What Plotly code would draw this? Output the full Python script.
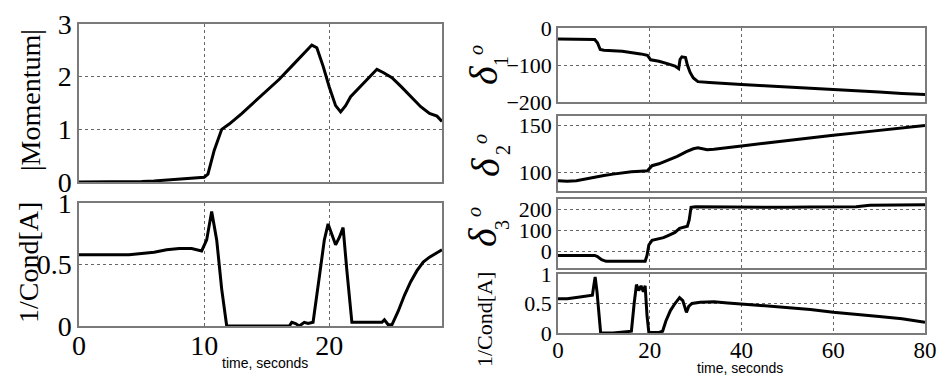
import plotly.graph_objects as go

# ---- data ----
mom_t = [0, 2, 4, 5, 6, 7, 8, 9, 10, 10.3, 10.8, 11.4, 12, 13, 14, 15, 16, 17, 18, 18.6, 19, 19.5, 20,
         20.5, 20.9, 21.3, 21.7, 22.5, 23.3, 23.8, 24.3, 25, 25.7, 26.5, 27.3, 28, 28.6, 29]
mom_v = [0, 0, 0, 0.01, 0.02, 0.04, 0.06, 0.08, 0.09, 0.15, 0.6, 1.0, 1.1, 1.3, 1.52, 1.73, 1.95, 2.2,
         2.45, 2.6, 2.55, 2.2, 1.8, 1.45, 1.33, 1.45, 1.62, 1.82, 2.0, 2.14, 2.08, 1.98, 1.82, 1.62,
         1.43, 1.3, 1.25, 1.15]

condL_t = [0, 2, 4, 5, 6, 7, 8, 9, 9.8, 10.2, 10.6, 11.0, 11.4, 11.8, 13, 15, 16.8, 17.0, 17.3, 17.6,
           18, 18.3, 18.7, 19.2, 19.6, 19.9, 20.2, 20.5, 20.8, 21.1, 21.4, 21.8, 22.5, 23.5, 24.2,
           24.4, 24.7, 25.0, 25.5, 26.0, 26.5, 27, 27.5, 28, 28.5, 29]
condL_v = [0.58, 0.58, 0.58, 0.59, 0.6, 0.62, 0.63, 0.63, 0.61, 0.7, 0.93, 0.7, 0.3, 0, 0, 0, 0, 0.03,
           0.02, 0, 0.03, 0.02, 0.03, 0.4, 0.7, 0.83, 0.75, 0.66, 0.72, 0.8, 0.45, 0.03, 0.03, 0.03,
           0.03, 0.05, 0.01, 0.01, 0.12, 0.25, 0.36, 0.45, 0.52, 0.56, 0.59, 0.62]

d1_t = [0, 4, 8, 8.6, 9.2, 10, 14, 18, 19.5, 20.2, 22, 24, 25.5, 26.3, 26.6, 27, 27.8, 28.2, 28.8,
        29.5, 30.5, 33, 36, 40, 45, 50, 55, 60, 65, 70, 75, 80]
d1_v = [-30, -30, -31, -40, -58, -60, -63, -70, -74, -86, -90, -97, -103, -110, -85, -78, -80, -100,
        -120, -135, -145, -147, -150, -153, -156, -159, -162, -165, -169, -173, -177, -180]

d2_t = [0, 2, 4, 6, 8, 10, 12, 14, 16, 18, 19.5, 20.5, 22, 24, 26, 28, 29.5, 30.5, 31.5, 32.5, 34,
        37, 40, 45, 50, 55, 60, 65, 70, 75, 80]
d2_v = [91, 90.5, 91, 93, 95, 96.5, 98, 99.5, 100.5, 101, 101.5, 107, 109, 113, 117, 122, 125, 126,
        125, 124, 124.5, 126, 128, 131, 134, 137, 139.5, 142, 144.5, 147, 150]

d3_t = [0, 4, 8, 8.6, 9.5, 10.5, 14, 18, 19, 19.4, 19.8, 20.5, 22, 23, 24, 25.5, 26.5, 27.5, 28.2,
        28.6, 29, 30, 34, 40, 50, 55, 60, 65, 68, 70, 75, 80]
d3_v = [-20, -20, -20, -25, -40, -48, -48, -48, -48, -20, 30, 52, 60, 65, 75, 90, 110, 118, 120, 150,
        210, 213, 212, 210, 210, 212, 213, 213, 220, 220, 221, 223]

condR_t = [0, 2, 4, 6, 7.5, 7.8, 8.1, 8.5, 9.0, 9.3, 12, 14, 15, 16, 16.6, 17.1, 17.6, 18.1, 18.6,
           19.0, 19.4, 19.8, 22, 22.8, 23.5, 24.5, 25.5, 26.5, 27.2, 27.7, 28.0, 28.5, 29.2, 31, 34,
           37, 40, 45, 50, 55, 60, 65, 70, 75, 80]
condR_v = [0.58, 0.58, 0.6, 0.63, 0.64, 0.8, 0.95, 0.7, 0.2, 0, 0, 0.02, 0.02, 0.03, 0.5, 0.82, 0.72,
           0.8, 0.7, 0.8, 0.3, 0.01, 0.01, 0.03, 0.2, 0.38, 0.5, 0.6, 0.55, 0.42, 0.35, 0.45, 0.5,
           0.52, 0.53, 0.51, 0.49, 0.46, 0.43, 0.4, 0.35, 0.32, 0.28, 0.24, 0.18]

left_xticks = [0, 10, 20]
right_xticks = [0, 20, 40, 60, 80]

# the page body has an 8px margin, so the figure starts at (8, 8) in the window
OFF = 8
W, H = 947 - OFF, 379 - OFF
SERIF = "Liberation Serif"
SANS = "Liberation Sans"


def xd(a, b):
    return [(a - OFF) / W, (b - OFF) / W]


def yd(top, bot):
    return [1 - (bot - OFF) / H, 1 - (top - OFF) / H]


fig = go.Figure()
series = [
    (mom_t, mom_v, "x", "y"),
    (condL_t, condL_v, "x2", "y2"),
    (d1_t, d1_v, "x3", "y3"),
    (d2_t, d2_v, "x4", "y4"),
    (d3_t, d3_v, "x5", "y5"),
    (condR_t, condR_v, "x6", "y6"),
]
for t, v, xa, ya in series:
    fig.add_trace(go.Scatter(x=t, y=v, xaxis=xa, yaxis=ya, mode="lines",
                             line=dict(color="black", width=3), showlegend=False,
                             hoverinfo="skip"))

common = dict(showline=True, mirror=True, linecolor="#7a7a7a", linewidth=1.5,
              showgrid=True, gridcolor="#666666", griddash="dot", gridwidth=1,
              zeroline=False, ticks="", color="black", automargin=False)

LX = xd(79, 442)
RX = xd(558, 925)

lay = dict(
    width=W, height=H, margin=dict(l=0, r=0, t=0, b=0, autoexpand=False),
    paper_bgcolor="white", plot_bgcolor="white", showlegend=False,
    font=dict(family=SERIF, color="black"),
    xaxis=dict(domain=LX, range=[0, 29], tickvals=left_xticks, showticklabels=False, anchor="y", **common),
    yaxis=dict(domain=yd(24, 182), range=[0, 3], tickvals=[0, 1, 2, 3], anchor="x",
               tickfont=dict(family=SERIF, size=28), **common),
    xaxis2=dict(domain=LX, range=[0, 29], tickvals=left_xticks, anchor="y2", ticklabelstandoff=-6,
                tickfont=dict(family=SERIF, size=28), **common),
    yaxis2=dict(domain=yd(203, 326), range=[0, 1], tickvals=[0, 0.5, 1], ticktext=["0", "0.5", "1"],
                anchor="x2", tickfont=dict(family=SERIF, size=28), **common),
    xaxis3=dict(domain=RX, range=[0, 80], tickvals=right_xticks, showticklabels=False, anchor="y3", **common),
    yaxis3=dict(domain=yd(28, 102), range=[-200, 0], tickvals=[-200, -100, 0], anchor="x3",
                tickfont=dict(family=SERIF, size=22), **common),
    xaxis4=dict(domain=RX, range=[0, 80], tickvals=right_xticks, showticklabels=False, anchor="y4", **common),
    yaxis4=dict(domain=yd(116, 191), range=[80, 160], tickvals=[100, 150], anchor="x4",
                tickfont=dict(family=SERIF, size=22), **common),
    xaxis5=dict(domain=RX, range=[0, 80], tickvals=right_xticks, showticklabels=False, anchor="y5", **common),
    yaxis5=dict(domain=yd(199, 268), range=[-80, 250], tickvals=[0, 100, 200], anchor="x5",
                tickfont=dict(family=SERIF, size=22), **common),
    xaxis6=dict(domain=RX, range=[0, 80], tickvals=right_xticks, anchor="y6", ticklabelstandoff=-4,
                tickfont=dict(family=SERIF, size=23), **common),
    yaxis6=dict(domain=yd(274, 333), range=[0, 1], tickvals=[0, 0.5, 1], ticktext=["0", "0.5", "1"],
                anchor="x6", tickfont=dict(family=SERIF, size=22), **common),
)
fig.update_layout(**lay)


def ann(text, x, y, size, family=SERIF, angle=-90):
    fig.add_annotation(text=text, x=(x - OFF) / W, y=1 - (y - OFF) / H, xref="paper", yref="paper",
                       showarrow=False, textangle=angle, xanchor="center", yanchor="middle",
                       font=dict(family=family, size=size, color="black"))


ann("|Momentum|", 30, 100, 28)
ann("1/Cond[A]", 28, 263, 28)

# delta labels: glyph, subscript index, superscript degree sign (all rotated)
delta_pos = [("1", (483, 75), (501, 61), (476, 50)),
             ("2", (485, 167), (503, 150), (480, 139)),
             ("3", (482, 237), (502, 225), (474, 212))]
for idx, dpos, spos, opos in delta_pos:
    ann("<i>δ</i>", dpos[0], dpos[1], 40)
    ann(idx, spos[0], spos[1], 20)
    ann("<i>o</i>", opos[0], opos[1], 20)

ann("1/Cond[A]", 484, 320, 22)
ann("time, seconds", 265, 363, 14, family=SANS, angle=0)
ann("time, seconds", 740, 368, 14, family=SANS, angle=0)

fig.write_html("out.html")
